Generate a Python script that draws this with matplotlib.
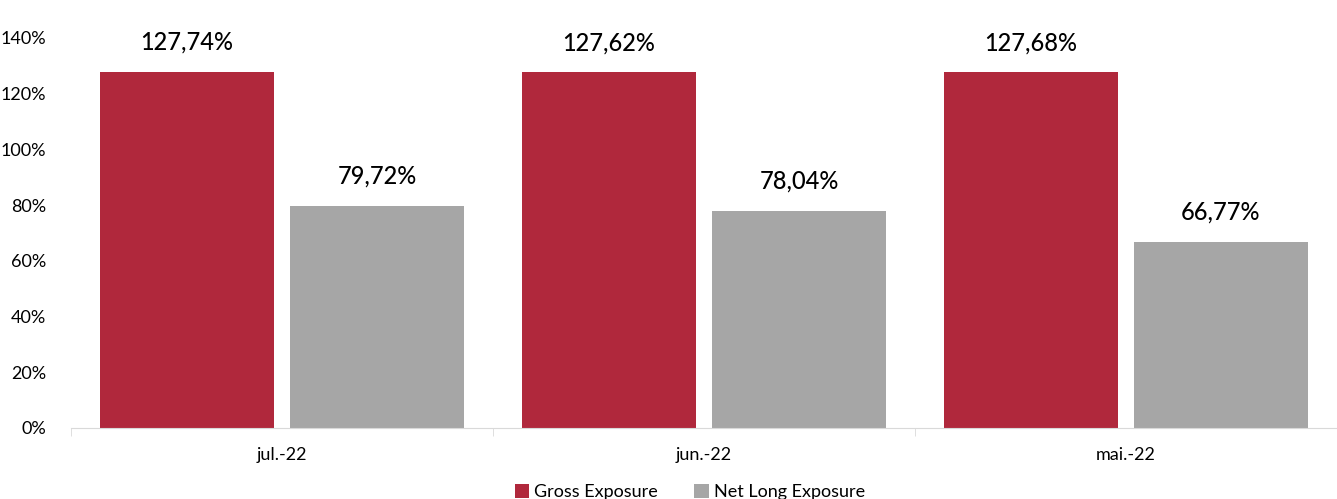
import numpy as np
import matplotlib.pyplot as plt

categories = ['jul.-22', 'jun.-22', 'mai.-22']
gross = [127.74, 127.62, 127.68]
net_long = [79.72, 78.04, 66.77]

plt.rcParams['font.family'] = ['Lato', 'DejaVu Sans']

fig = plt.figure(figsize=(13.37, 4.99), dpi=100)
ax = fig.add_axes([71 / 1337, 71 / 499, 1266 / 1337, 390 / 499])

x = np.arange(len(categories))
w = 0.412
off = 0.225
b1 = ax.bar(x - off, gross, w, color='#B0283C', label='Gross Exposure')
b2 = ax.bar(x + off, net_long, w, color='#A6A6A6', label='Net Long Exposure')

for bars, vals in ((b1, gross), (b2, net_long)):
    for b, v in zip(bars, vals):
        ax.text(b.get_x() + b.get_width() / 2, v + 6.5, f'{v:.2f}%'.replace('.', ','),
                ha='center', va='bottom', fontsize=17, color='black', weight='medium')

ax.set_xlim(-0.5, 2.5)
ax.set_ylim(0, 140)
ax.set_yticks(np.arange(0, 141, 20))
ax.set_yticklabels([f'{v}%' for v in range(0, 141, 20)])
ax.set_xticks(x)
ax.set_xticklabels(categories)
ax.tick_params(axis='y', length=0, labelsize=13, pad=18)
ax.tick_params(axis='x', length=0, labelsize=13, pad=14)
ax.set_xticks([-0.5, 0.5, 1.5, 2.5], minor=True)
ax.tick_params(axis='x', which='minor', length=6, color='#D9D9D9')

for s in ['top', 'right', 'left']:
    ax.spines[s].set_visible(False)
ax.spines['bottom'].set_color('#D9D9D9')

fig.legend(loc='lower center', bbox_to_anchor=(0.516, -0.035), ncol=2, frameon=False,
           fontsize=13, handlelength=0.8, handleheight=0.8, handletextpad=0.3,
           columnspacing=2.0)

fig.savefig('out.png', dpi=100)
